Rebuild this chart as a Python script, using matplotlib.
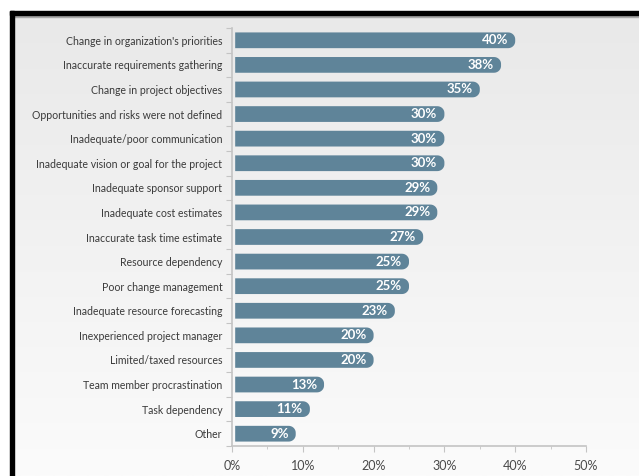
import numpy as np
import matplotlib
matplotlib.use("Agg")
import matplotlib.pyplot as plt
from matplotlib.patches import Polygon, Rectangle
from matplotlib.colors import LinearSegmentedColormap

# data
categories = [
    "Change in organization's priorities",
    "Inaccurate requirements gathering",
    "Change in project objectives",
    "Opportunities and risks were not defined",
    "Inadequate/poor communication",
    "Inadequate vision or goal for the project",
    "Inadequate sponsor support",
    "Inadequate cost estimates",
    "Inaccurate task time estimate",
    "Resource dependency",
    "Poor change management",
    "Inadequate resource forecasting",
    "Inexperienced project manager",
    "Limited/taxed resources",
    "Team member procrastination",
    "Task dependency",
    "Other",
]
values = [40, 38, 35, 30, 30, 30, 29, 29, 27, 25, 25, 23, 20, 20, 13, 11, 9]
xticks = [0, 10, 20, 30, 40, 50]
xminor = [5, 15, 25, 35, 45]

plt.rcParams['font.family'] = ['Lato', 'DejaVu Sans']

W, H = 639, 476
fig = plt.figure(figsize=(W / 100, H / 100), dpi=100)
fig.patch.set_facecolor('white')

# gray gradient panel
bg = fig.add_axes([14 / W, 0, 1 - 14 / W, 1 - 16 / H])
grad = np.linspace(0, 1, 200).reshape(-1, 1)
cmap = LinearSegmentedColormap.from_list('bg', ['#e9e9e9', '#fbfbfb'])
bg.imshow(grad, aspect='auto', cmap=cmap, extent=[0, 1, 0, 1])
bg.axis('off')

# black frame + gray line under it
fig.patches.append(Rectangle((10 / W, 1 - 15 / H), 1, 4 / H, transform=fig.transFigure,
                             color='black', zorder=5))
fig.patches.append(Rectangle((10 / W, 0), 4 / W, 1 - 11 / H, transform=fig.transFigure,
                             color='black', zorder=5))
fig.patches.append(Rectangle((14 / W, 1 - 17 / H), 1, 2 / H, transform=fig.transFigure,
                             color='#a8a8a8', zorder=4))

ax = fig.add_axes([232 / W, 1 - 446 / H, (586 - 232) / W, (446 - 28) / H])
ax.patch.set_alpha(0)


def rounded_bar(x0, x1, yc, h, rx, ry):
    # square on the left, rounded corners on the right
    a1 = np.linspace(-np.pi / 2, 0, 10)
    a2 = np.linspace(0, np.pi / 2, 10)
    pts = [(x0, yc - h / 2), (x1 - rx, yc - h / 2)]
    pts += list(zip(x1 - rx + rx * np.cos(a1), yc - h / 2 + ry + ry * np.sin(a1)))
    pts += list(zip(x1 - rx + rx * np.cos(a2), yc + h / 2 - ry + ry * np.sin(a2)))
    pts += [(x0, yc + h / 2)]
    return pts


bar_color = '#5f8499'
h = 0.64
x0 = 0.45
for i, v in enumerate(values):
    ax.add_patch(Polygon(rounded_bar(x0, v, i, h, 1.0, 0.28), closed=True,
                         fc=bar_color, ec='none'))
    ax.text(v - 1.0, i, f"{v}%", ha='right', va='center', color='white',
            fontsize=9.5, fontweight='bold')

ax.set_xlim(0, 50)
ax.set_ylim(len(values) - 0.5, -0.5)

ax.set_yticks(np.arange(-0.5, len(values)), labels=[''] * (len(values) + 1))
ax.set_yticks(np.arange(len(values)), labels=categories, minor=True)
ax.tick_params(axis='y', which='major', length=4, color='#c4c4c4', direction='out')
ax.tick_params(axis='y', which='minor', length=0, pad=7, labelsize=7.6, labelcolor='#3a3a3a')

ax.set_xticks(xticks, labels=[f"{t}%" for t in xticks])
ax.set_xticks(xminor, minor=True)
ax.tick_params(axis='x', which='major', length=4, color='#c4c4c4', pad=6,
               labelsize=9, labelcolor='#4a4a4a')
ax.tick_params(axis='x', which='minor', length=2, color='#c4c4c4')

for s in ['top', 'right']:
    ax.spines[s].set_visible(False)
for s in ['left', 'bottom']:
    ax.spines[s].set_color('#c4c4c4')
    ax.spines[s].set_linewidth(1.2)

fig.savefig('out.png', dpi=100)
